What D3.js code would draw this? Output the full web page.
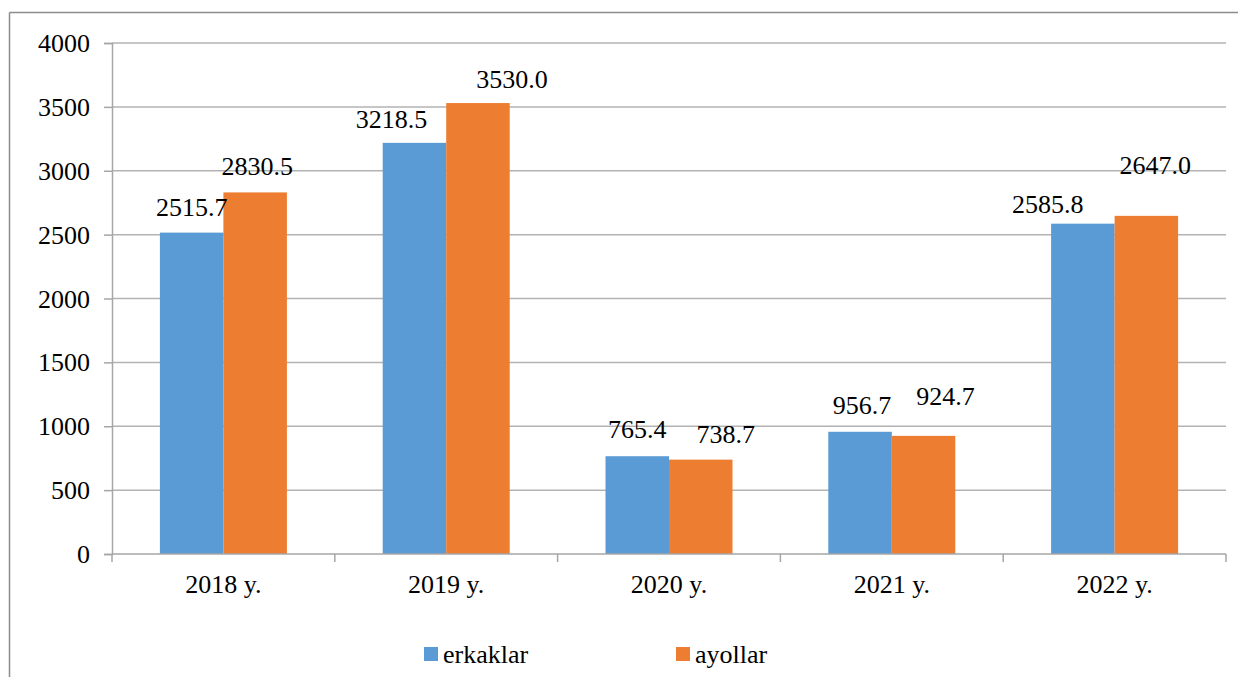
<html>
  <head>
    <meta charset="utf-8">
    <script src="https://d3js.org/d3.v7.min.js"></script>
    <style>
      body { margin: 0; background: #fff; }
    </style>
  </head>
  <body>
    <svg id="chart" width="1238" height="677"></svg>
    <script>
      var years = ["2018 y.", "2019 y.", "2020 y.", "2021 y.", "2022 y."];
      var erkaklar = [2515.7, 3218.5, 765.4, 956.7, 2585.8];
      var ayollar = [2830.5, 3530.0, 738.7, 924.7, 2647.0];
      var seriesNames = ["erkaklar", "ayollar"];
      var colors = ["#5b9bd5", "#ed7d31"];
      var yTicks = [0, 500, 1000, 1500, 2000, 2500, 3000, 3500, 4000];

      // data labels were hand-nudged in the original; pixel nudges per series
      var labelDx = [[0, -23, 0, 2, -35], [2, 34, 25, 22, 9]];
      var labelGap = [[17, 15, 18, 18, 11], [17, 15, 17, 31, 42]];

      var serif = "'Liberation Serif', 'Times New Roman', Times, 'DejaVu Serif', serif";
      var svg = d3.select("#chart");
      var plotL = 112, plotR = 1226, plotT = 43, plotB = 554;
      var fs = 26;

      function styleText(sel) {
        return sel.attr("font-family", serif).attr("font-size", fs).attr("fill", "#000")
          .style("font-family", serif).style("font-size", fs + "px");
      }

      // outer frame (only top and left edges show)
      svg.append("line").attr("x1", 9.5).attr("x2", 1238).attr("y1", 12.5).attr("y2", 12.5)
        .attr("stroke", "#8c8c8c").attr("stroke-width", 1.5);
      svg.append("line").attr("x1", 9.5).attr("x2", 9.5).attr("y1", 12.5).attr("y2", 677)
        .attr("stroke", "#8c8c8c").attr("stroke-width", 1.5);

      var x = d3.scaleBand().domain(years).range([plotL, plotR]).paddingInner(0).paddingOuter(0);
      var y = d3.scaleLinear().domain([0, 4000]).range([plotB, plotT]);
      var barW = 63.5;
      var offset = (x.bandwidth() - 2 * barW) / 2;

      // gridlines
      svg.append("g").selectAll("line").data(yTicks.filter(function(d) { return d > 0; }))
        .enter().append("line")
        .attr("x1", plotL).attr("x2", plotR)
        .attr("y1", function(d) { return y(d); }).attr("y2", function(d) { return y(d); })
        .attr("stroke", "#b3b3b3").attr("stroke-width", 1.5);

      // y axis
      var yAxis = svg.append("g").attr("transform", "translate(" + plotL + ",0)")
        .call(d3.axisLeft(y).tickValues(yTicks).tickSize(8).tickPadding(14).tickFormat(d3.format("d")));
      yAxis.attr("font-family", serif).attr("font-size", fs);
      yAxis.select(".domain").attr("stroke", "#a6a6a6").attr("stroke-width", 1.5);
      yAxis.selectAll(".tick line").attr("stroke", "#a6a6a6").attr("stroke-width", 1.5);
      styleText(yAxis.selectAll("text")).attr("dy", "0.33em");

      // bars
      var rows = years.map(function(yr, i) { return { year: yr, i: i, vals: [erkaklar[i], ayollar[i]] }; });
      var groups = svg.append("g").selectAll("g").data(rows).enter().append("g")
        .attr("transform", function(d) { return "translate(" + (x(d.year) + offset) + ",0)"; });
      groups.selectAll("rect").data(function(d) { return d.vals; }).enter().append("rect")
        .attr("x", function(d, j) { return j * barW; })
        .attr("width", barW)
        .attr("y", function(d) { return y(d); })
        .attr("height", function(d) { return plotB - y(d); })
        .attr("fill", function(d, j) { return colors[j]; });
      groups.each(function(row) {
        var g = d3.select(this);
        row.vals.forEach(function(v, j) {
          styleText(g.append("text"))
            .attr("x", j * barW + barW / 2 + labelDx[j][row.i])
            .attr("y", y(v) - labelGap[j][row.i])
            .attr("text-anchor", "middle")
            .text(v.toFixed(1));
        });
      });

      // x axis
      var xAxis = svg.append("g").attr("transform", "translate(0," + plotB + ")");
      xAxis.append("line").attr("x1", plotL).attr("x2", plotR).attr("stroke", "#a6a6a6").attr("stroke-width", 1.5);
      var bounds = years.map(function(d) { return x(d); }).concat([plotR]);
      xAxis.selectAll(".tk").data(bounds).enter().append("line").attr("class", "tk")
        .attr("x1", function(d) { return d; }).attr("x2", function(d) { return d; })
        .attr("y1", 0).attr("y2", 8).attr("stroke", "#a6a6a6").attr("stroke-width", 1.5);
      styleText(xAxis.selectAll(".lbl").data(years).enter().append("text").attr("class", "lbl"))
        .attr("x", function(d) { return x(d) + x.bandwidth() / 2; })
        .attr("y", 39)
        .attr("text-anchor", "middle")
        .text(function(d) { return d; });

      // legend
      var legX = [424, 676];
      var leg = svg.append("g").selectAll("g").data(seriesNames).enter().append("g")
        .attr("transform", function(d, i) { return "translate(" + legX[i] + ",647)"; });
      leg.append("rect").attr("width", 14).attr("height", 14).attr("fill", function(d, i) { return colors[i]; });
      styleText(leg.append("text")).attr("x", 19).attr("y", 16).text(function(d) { return d; });
    </script>
  </body>
</html>
